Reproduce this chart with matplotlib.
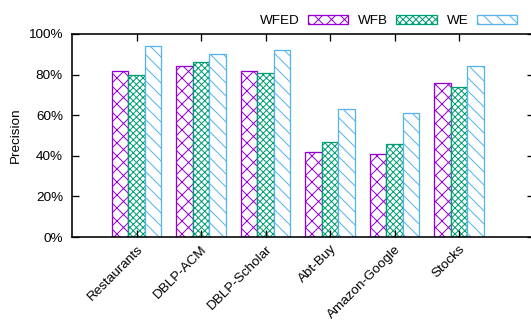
import matplotlib
matplotlib.use("Agg")
import matplotlib.pyplot as plt
import numpy as np

# hatch spacing in matplotlib is tied to dpi, so render at 78 dpi
# and express every size in pixels through PX
DPI = 78
PX = 72.0 / DPI

plt.rcParams["font.family"] = ["Liberation Sans", "DejaVu Sans"]
plt.rcParams["hatch.linewidth"] = 1.0 * PX

datasets = ["Restaurants", "DBLP-ACM", "DBLP-Scholar", "Abt-Buy", "Amazon-Google", "Stocks"]
wfed = [82, 84, 82, 42, 41, 76]
wfb = [80, 86, 81, 47, 46, 74]
we = [94, 90, 92, 63, 61, 84]
yticks = [0, 20, 40, 60, 80, 100]

series = [
    ("WFED", wfed, "#9400D3", "xx"),
    ("WFB", wfb, "#009E73", "xxxx"),
    ("WE", we, "#56B4E9", "\\\\"),
]

FS = 13.5 * PX

fig = plt.figure(figsize=(531 / DPI, 327 / DPI), dpi=DPI)
ax = fig.add_axes([72 / 531, 90 / 327, 462 / 531, 203 / 327])

x = np.arange(len(datasets))
w = 0.255
for i, (name, vals, col, hatch) in enumerate(series):
    ax.bar(x + (i - 1) * w, vals, w, facecolor="white", edgecolor=col,
           hatch=hatch, linewidth=1.3 * PX, label=name)

ax.set_xlim(-1, 6.16)
ax.set_ylim(0, 100)
ax.set_xticks(x)
ax.set_xticklabels(datasets, rotation=45, ha="right", rotation_mode="anchor", fontsize=FS)
ax.set_yticks(yticks)
ax.set_yticklabels([f"{v}%" for v in yticks], fontsize=FS)
ax.set_ylabel("Precision", fontsize=FS, labelpad=7 * PX)
ax.tick_params(direction="in", top=True, right=True, length=7 * PX, width=1.3 * PX)
ax.tick_params(axis="y", pad=9 * PX)
ax.tick_params(axis="x", pad=6 * PX)
for s in ax.spines.values():
    s.set_linewidth(1.6 * PX)

ax.legend(loc="lower right", bbox_to_anchor=((524 - 72) / 462, 1.0),
          ncol=3, frameon=False, markerfirst=False, fontsize=FS,
          handlelength=3.0, handleheight=0.65, columnspacing=0.75,
          handletextpad=0.6, borderaxespad=0.0, borderpad=0.5)

fig.savefig("out.png", dpi=DPI)
